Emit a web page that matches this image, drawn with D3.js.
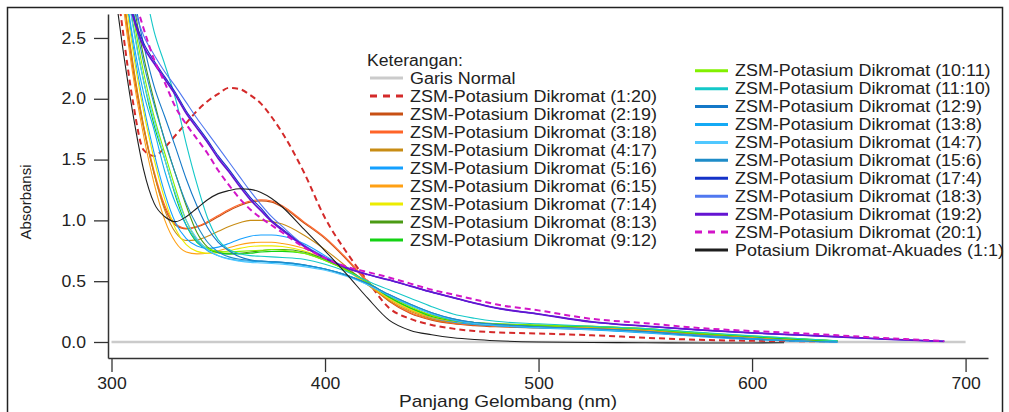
<!DOCTYPE html>
<html>
<head>
<meta charset="utf-8">
<script src="https://cdn.jsdelivr.net/npm/d3@7"></script>
<style>
  body { margin: 0; background: #fff; }
  text { font-family: "Liberation Sans", Arial, sans-serif; fill: #222; }
</style>
</head>
<body>
<svg id="chart" width="1009" height="412"></svg>
<script>
// wavelength grid (nm)
var wl = [300, 305, 310, 315, 320, 325, 330, 335, 340, 345,
          350, 355, 360, 365, 370, 375, 380, 390, 400, 410,
          420, 430, 440, 450, 460, 470, 480, 500, 525, 550,
          575, 600, 615, 640, 665, 690, 700];

// absorbance, one array per sample
var normal = wl.map(function() { return 0; });
var s1_20 = [3.3, 2.6, 1.98, 1.58, 1.53, 1.6, 1.7, 1.8, 1.9, 1.98, 2.04, 2.09, 2.08, 2.03, 1.96, 1.85, 1.72, 1.4, 1.02, 0.74, 0.5, 0.28, 0.19, 0.14, 0.11, 0.09, 0.08, 0.07, 0.055, 0.035, 0.018, 0.01, 0.008, 0.005, null, null, null];
var s2_19 = [3.85, 2.92, 2.25, 1.76, 1.38, 1.1, 0.96, 0.93, 0.945, 0.98, 1.03, 1.08, 1.12, 1.15, 1.16, 1.15, 1.11, 0.98, 0.85, 0.68, 0.49, 0.335, 0.235, 0.18, 0.15, 0.135, 0.125, 0.115, 0.105, 0.085, 0.058, 0.033, 0.02, 0.005, null, null, null];
var s3_18 = [3.9, 2.95, 2.28, 1.78, 1.4, 1.12, 0.97, 0.935, 0.95, 0.99, 1.04, 1.09, 1.13, 1.16, 1.17, 1.16, 1.12, 0.99, 0.86, 0.69, 0.5, 0.34, 0.24, 0.185, 0.155, 0.14, 0.13, 0.12, 0.11, 0.09, 0.06, 0.035, 0.02, 0.005, null, null, null];
var s4_17 = [3.9, 2.95, 2.3, 1.78, 1.38, 1.08, 0.9, 0.835, 0.84, 0.87, 0.91, 0.95, 0.98, 1.0, 1.0, 0.99, 0.97, 0.88, 0.76, 0.62, 0.47, 0.34, 0.25, 0.19, 0.16, 0.145, 0.135, 0.125, 0.115, 0.095, 0.065, 0.035, 0.02, 0.005, null, null, null];
var s5_16 = [4.0, 3.1, 2.45, 1.95, 1.55, 1.22, 0.98, 0.85, 0.79, 0.77, 0.78, 0.81, 0.845, 0.87, 0.88, 0.88, 0.87, 0.81, 0.71, 0.6, 0.48, 0.36, 0.27, 0.2, 0.165, 0.145, 0.135, 0.12, 0.105, 0.085, 0.055, 0.03, 0.015, 0.003, null, null, null];
var s6_15 = [3.8, 2.85, 2.2, 1.7, 1.3, 1.0, 0.82, 0.74, 0.725, 0.73, 0.75, 0.775, 0.8, 0.815, 0.82, 0.82, 0.81, 0.77, 0.69, 0.59, 0.47, 0.35, 0.26, 0.2, 0.17, 0.15, 0.14, 0.13, 0.12, 0.1, 0.07, 0.04, 0.025, 0.005, null, null, null];
var s7_14 = [4.0, 3.05, 2.4, 1.9, 1.5, 1.17, 0.93, 0.8, 0.745, 0.73, 0.735, 0.75, 0.77, 0.785, 0.79, 0.79, 0.785, 0.75, 0.68, 0.59, 0.48, 0.36, 0.27, 0.21, 0.175, 0.155, 0.145, 0.135, 0.125, 0.105, 0.075, 0.045, 0.03, 0.008, null, null, null];
var s8_13 = [4.5, 3.4, 2.82, 2.35, 1.98, 1.65, 1.38, 1.12, 0.9, 0.78, 0.735, 0.725, 0.73, 0.74, 0.75, 0.76, 0.76, 0.74, 0.68, 0.6, 0.49, 0.37, 0.28, 0.22, 0.18, 0.16, 0.15, 0.14, 0.13, 0.11, 0.075, 0.045, 0.03, 0.008, null, null, null];
var s9_12 = [4.2, 3.2, 2.62, 2.15, 1.78, 1.5, 1.2, 0.96, 0.82, 0.76, 0.735, 0.725, 0.725, 0.73, 0.74, 0.745, 0.745, 0.73, 0.67, 0.59, 0.49, 0.37, 0.28, 0.21, 0.175, 0.155, 0.145, 0.135, 0.125, 0.105, 0.07, 0.045, 0.03, 0.008, null, null, null];
var s10_11 = [4.3, 3.3, 2.7, 2.22, 1.85, 1.55, 1.26, 1.0, 0.84, 0.77, 0.745, 0.74, 0.745, 0.75, 0.755, 0.76, 0.755, 0.73, 0.67, 0.59, 0.49, 0.38, 0.29, 0.22, 0.18, 0.16, 0.15, 0.14, 0.13, 0.11, 0.075, 0.05, 0.035, 0.01, null, null, null];
var s11_10 = [4.6, 3.9, 3.3, 2.95, 2.55, 2.28, 2.0, 1.63, 1.3, 1.02, 0.84, 0.76, 0.725, 0.71, 0.705, 0.7, 0.695, 0.68, 0.64, 0.58, 0.5, 0.43, 0.36, 0.29, 0.23, 0.195, 0.17, 0.15, 0.13, 0.11, 0.08, 0.05, 0.035, 0.01, null, null, null];
var s12_9 = [4.4, 3.5, 2.9, 2.45, 2.1, 1.85, 1.6, 1.34, 1.12, 0.94, 0.82, 0.75, 0.7, 0.675, 0.665, 0.66, 0.655, 0.635, 0.6, 0.55, 0.48, 0.39, 0.31, 0.24, 0.19, 0.16, 0.145, 0.125, 0.105, 0.08, 0.05, 0.025, 0.012, 0.0, null, null, null];
var s13_8 = [4.0, 3.1, 2.5, 2.05, 1.74, 1.4, 1.14, 0.96, 0.83, 0.75, 0.71, 0.685, 0.67, 0.665, 0.66, 0.655, 0.65, 0.63, 0.6, 0.55, 0.47, 0.38, 0.3, 0.23, 0.18, 0.15, 0.135, 0.115, 0.1, 0.075, 0.045, 0.02, 0.01, 0.0, null, null, null];
var s14_7 = [4.1, 3.2, 2.6, 2.15, 1.82, 1.5, 1.22, 1.0, 0.85, 0.76, 0.71, 0.68, 0.665, 0.655, 0.65, 0.645, 0.64, 0.62, 0.59, 0.54, 0.47, 0.385, 0.305, 0.235, 0.185, 0.155, 0.14, 0.12, 0.105, 0.08, 0.05, 0.025, 0.012, 0.0, null, null, null];
var s15_6 = [4.3, 3.35, 2.75, 2.3, 1.95, 1.66, 1.38, 1.14, 0.96, 0.82, 0.74, 0.7, 0.68, 0.67, 0.665, 0.66, 0.655, 0.635, 0.6, 0.55, 0.48, 0.39, 0.31, 0.24, 0.19, 0.16, 0.145, 0.125, 0.11, 0.085, 0.05, 0.025, 0.012, 0.0, null, null, null];
var s17_4 = [3.62, 3.08, 2.7, 2.46, 2.31, 2.18, 2.05, 1.9, 1.78, 1.66, 1.53, 1.42, 1.3, 1.19, 1.1, 1.0, 0.93, 0.795, 0.69, 0.61, 0.555, 0.51, 0.46, 0.41, 0.365, 0.32, 0.28, 0.23, 0.165, 0.13, 0.1, 0.075, 0.063, 0.043, 0.022, 0.005, null];
var s18_3 = [3.7, 3.15, 2.78, 2.52, 2.36, 2.22, 2.1, 1.97, 1.84, 1.72, 1.6, 1.48, 1.36, 1.24, 1.13, 1.03, 0.95, 0.8, 0.7, 0.615, 0.555, 0.51, 0.46, 0.41, 0.365, 0.32, 0.28, 0.23, 0.165, 0.13, 0.1, 0.075, 0.062, 0.042, 0.021, 0.005, null];
var s19_2 = [3.6, 3.05, 2.68, 2.43, 2.29, 2.16, 2.03, 1.88, 1.76, 1.64, 1.51, 1.4, 1.28, 1.17, 1.08, 0.99, 0.92, 0.79, 0.69, 0.61, 0.555, 0.51, 0.46, 0.41, 0.365, 0.32, 0.28, 0.23, 0.165, 0.13, 0.1, 0.075, 0.063, 0.043, 0.022, 0.005, null];
var s20_1 = [3.8, 3.25, 2.88, 2.58, 2.32, 2.13, 1.93, 1.79, 1.67, 1.55, 1.41, 1.29, 1.18, 1.09, 1.02, 0.96, 0.9, 0.78, 0.69, 0.62, 0.575, 0.53, 0.48, 0.43, 0.39, 0.35, 0.31, 0.26, 0.19, 0.155, 0.115, 0.09, 0.078, 0.055, 0.03, 0.008, null];
var akuades = [3.1, 2.45, 1.88, 1.42, 1.14, 1.03, 0.99, 1.03, 1.1, 1.17, 1.22, 1.245, 1.26, 1.255, 1.23, 1.18, 1.11, 0.93, 0.75, 0.56, 0.36, 0.18, 0.095, 0.06, 0.035, 0.02, 0.01, 0.0, -0.004, -0.006, -0.008, -0.008, -0.006, null, null, null, null];

var labels = ["Garis Normal",
  "ZSM-Potasium Dikromat (1:20)", "ZSM-Potasium Dikromat (2:19)", "ZSM-Potasium Dikromat (3:18)",
  "ZSM-Potasium Dikromat (4:17)", "ZSM-Potasium Dikromat (5:16)", "ZSM-Potasium Dikromat (6:15)",
  "ZSM-Potasium Dikromat (7:14)", "ZSM-Potasium Dikromat (8:13)", "ZSM-Potasium Dikromat (9:12)",
  "ZSM-Potasium Dikromat (10:11)", "ZSM-Potasium Dikromat (11:10)", "ZSM-Potasium Dikromat (12:9)",
  "ZSM-Potasium Dikromat (13:8)", "ZSM-Potasium Dikromat (14:7)", "ZSM-Potasium Dikromat (15:6)",
  "ZSM-Potasium Dikromat (17:4)", "ZSM-Potasium Dikromat (18:3)", "ZSM-Potasium Dikromat (19:2)",
  "ZSM-Potasium Dikromat (20:1)", "Potasium Dikromat-Akuades (1:1)"];
var values = [normal, s1_20, s2_19, s3_18, s4_17, s5_16, s6_15, s7_14, s8_13, s9_12,
  s10_11, s11_10, s12_9, s13_8, s14_7, s15_6, s17_4, s18_3, s19_2, s20_1, akuades];
var colors = ["#cbcbcb", "#d42a2a", "#c85014", "#ff6428", "#c88c14", "#14a0ff", "#ffa014",
  "#ecec00", "#4b9b14", "#14d214", "#82f000", "#14c8c8", "#1478c8", "#14aaf5", "#50c8ff",
  "#1e8cc8", "#1432c8", "#5078f0", "#6414d2", "#d214c8", "#1e1e1e"];
var yTicks = [0, 0.5, 1.0, 1.5, 2.0, 2.5];
var xTicks = [300, 400, 500, 600, 700];

var svg = d3.select("#chart");
var x = d3.scaleLinear().domain([298.36, 710.5]).range([108, 988]);
var y = d3.scaleLinear().domain([-0.1316, 2.697]).range([358, 14]);

// stretch text a bit wider, the original render is slightly wide
function stretch(sel, k) {
  sel.each(function() {
    var w = this.getComputedTextLength();
    d3.select(this).attr("textLength", w * k).attr("lengthAdjust", "spacingAndGlyphs");
  });
}

svg.append("rect")
  .attr("x", 7.5).attr("y", 7.5)
  .attr("width", 995).attr("height", 420)
  .attr("fill", "none").attr("stroke", "#222").attr("stroke-width", 1.5);

svg.append("defs").append("clipPath").attr("id", "plot")
  .append("rect").attr("x", 108).attr("y", 14).attr("width", 880).attr("height", 344);

var line = d3.line()
  .defined(function(d) { return d[1] != null; })
  .x(function(d) { return x(d[0]); })
  .y(function(d) { return y(d[1]); })
  .curve(d3.curveMonotoneX);

var plot = svg.append("g").attr("clip-path", "url(#plot)");

values.forEach(function(v, i) {
  var pts = wl.map(function(w, j) { return [w, v[j]]; });
  var p = plot.append("path")
    .attr("d", line(pts))
    .attr("fill", "none")
    .attr("stroke", colors[i])
    .attr("stroke-width", i == 0 ? 2.5 : i == 18 ? 1.8 : (i == 1 || i == 19) ? 2 : 1.1);
  if (i == 1 || i == 19) p.attr("stroke-dasharray", "6,4");
});

// axes
var yAxis = d3.axisLeft(y).tickValues(yTicks).tickFormat(d3.format(".1f"))
  .tickSize(14).tickSizeOuter(0).tickPadding(8);
var xAxis = d3.axisBottom(x).tickValues(xTicks).tickFormat(d3.format("d"))
  .tickSize(14).tickSizeOuter(0).tickPadding(6);

var gy = svg.append("g").attr("transform", "translate(108,0)").call(yAxis);
var gx = svg.append("g").attr("transform", "translate(0,358)").call(xAxis);

[gy, gx].forEach(function(g) {
  g.select(".domain").attr("stroke", "#333").attr("stroke-width", 1.5);
  g.selectAll(".tick line").attr("stroke", "#333").attr("stroke-width", 1.3);
  g.selectAll(".tick text")
    .attr("font-family", "Liberation Sans, Arial, sans-serif")
    .attr("font-size", 16).attr("fill", "#333");
  stretch(g.selectAll(".tick text"), 1.1);
});

svg.append("text")
  .attr("transform", "translate(31,202) rotate(-90)")
  .attr("text-anchor", "middle")
  .attr("font-size", 15)
  .attr("fill", "#333")
  .text("Absorbansi");

var xt = svg.append("text")
  .attr("x", 508).attr("y", 407)
  .attr("text-anchor", "middle")
  .attr("font-size", 17)
  .attr("fill", "#333")
  .text("Panjang Gelombang (nm)");
stretch(xt, 1.12);

// legend
var hd = svg.append("text").attr("x", 367).attr("y", 66)
  .attr("font-size", 16).text("Keterangan:");
stretch(hd, 1.1);

var leg = svg.append("g");
labels.forEach(function(lab, i) {
  var col2 = i >= 10;
  var yc = col2 ? 70.7 + 17.93 * (i - 10) : 78 + 18 * i;
  var x0 = col2 ? 695 : 370;
  var l = leg.append("line")
    .attr("x1", x0).attr("x2", x0 + 33)
    .attr("y1", yc).attr("y2", yc)
    .attr("stroke", colors[i]).attr("stroke-width", 3);
  if (i == 1 || i == 19) l.attr("stroke-dasharray", "7,6");
  var t = leg.append("text")
    .attr("x", x0 + 40).attr("y", yc + 5.7)
    .attr("font-size", 16)
    .text(lab);
  stretch(t, 1.12);
});
</script>
</body>
</html>
